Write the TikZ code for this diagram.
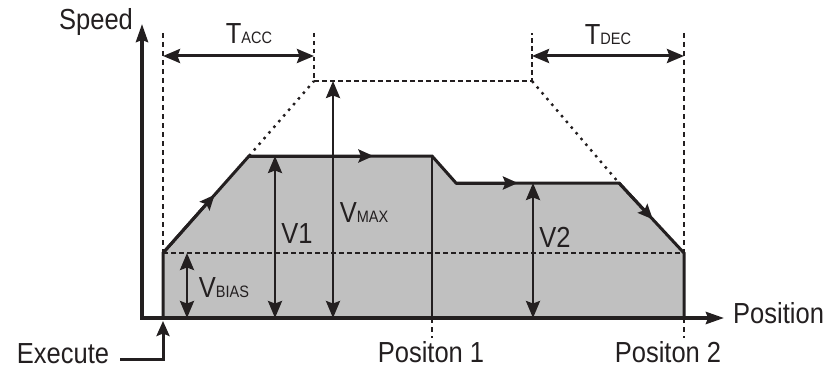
\documentclass[tikz,border=0pt]{standalone}
\usepackage{fontspec}
\setmainfont[FakeStretch=0.88]{Liberation Sans}
\usetikzlibrary{arrows.meta,calc}
\definecolor{Ink}{HTML}{231F20}
\definecolor{Shade}{HTML}{C0C0C0}
\newcommand{\sml}[1]{{\fontsize{16.5}{20}\selectfont #1}}
\tikzset{axisline/.style={line width=3.5pt,draw=Ink,{Stealth[length=18pt,width=12pt,inset=2pt]}-{Stealth[length=18pt,width=12pt,inset=2pt]}},flow/.style={line width=3pt,draw=Ink,-{Stealth[length=15pt,width=13pt,inset=2.5pt]}},dim/.style={line width=3pt,draw=Ink,{Stealth[length=17pt,width=14pt,inset=2.5pt]}-{Stealth[length=17pt,width=14pt,inset=2.5pt]}},guide/.style={line width=2.6pt,draw=Ink,dash pattern=on 5pt off 4pt},dots/.style={line width=2.4pt,draw=Ink,dash pattern=on 2.5pt off 5pt},outline/.style={line width=3pt,draw=Ink},lab/.style={font=\fontsize{29}{34}\selectfont,text=Ink,inner sep=0pt}}
\begin{document}
\begin{tikzpicture}[x=1pt,y=-1pt]
\useasboundingbox (0,0) rectangle (835,369);
% corners of the speed profile
\coordinate (b0) at (163,253);
\coordinate (p1) at (249,156);
\coordinate (p2) at (432,156);
\coordinate (p3) at (456,183);
\coordinate (p4) at (619,183);
\coordinate (b1) at (684,253);
\coordinate (m1) at (314,81);
\coordinate (m2) at (532,81);
\fill[Shade] (163,318)--(b0)--(p1)--(p2)--(p3)--(p4)--(b1)--(684,318)--cycle;
% guide lines
\draw[guide] (163,33)--(b0);
\draw[guide] (684,33)--(b1);
\draw[guide] (684,318)--(684,338);
\draw[guide] (432,318)--(432,338);
\draw[guide,dash pattern=on 4.5pt off 3.5pt] (b0)--(b1);
\draw[guide,dash pattern=on 4.5pt off 3.5pt] (314,33)--(m1)--(m2)--(532,33);
\draw[dots] (p1)--(m1);
\draw[dots] (m2)--(p4);
% profile
\draw[outline] (163,318)--(b0)--(p1)--(p2)--(p3)--(p4)--(b1)--(684,318);
\draw[outline,line width=2.5pt] (p2)--(432,318);
\draw[flow] (b0)--($(b0)!.6!(p1)$);
\draw[flow] (p1)--($(p1)!.68!(p2)$);
\draw[flow] (p3)--($(p3)!.38!(p4)$);
\draw[flow] (p4)--($(p4)!.52!(b1)$);
% axes and sizes
\draw[axisline] (142,24)--(142,318)--(724,318);
\draw[dim] (163,56)--(314,56);
\draw[dim] (532,56)--(684,56);
\draw[dim,line width=2.6pt] (333,81)--(333,318);
\draw[dim,line width=2.6pt] (275,156)--(275,318);
\draw[dim,line width=2.6pt] (187,253)--(187,318);
\draw[dim,line width=2.6pt] (533,183)--(533,318);
% labels
\node[lab,anchor=base] (speed) at (96,30) {Speed};
\node[lab,anchor=base] (tacc) at (249,44) {T\sml{ACC}};
\node[lab,anchor=base] (tdec) at (608,45) {T\sml{DEC}};
\node[lab,anchor=base] (vmax) at (364,222) {V\sml{MAX}};
\node[lab,anchor=base] (vone) at (297,243) {V1};
\node[lab,anchor=base] (vbias) at (224,297) {V\sml{BIAS}};
\node[lab,anchor=base] (vtwo) at (555,247) {V2};
\node[lab,anchor=base west] (pos) at (733,323) {Position};
\node[lab,anchor=base] (posone) at (431,362) {Positon 1};
\node[lab,anchor=base] (postwo) at (668,362) {Positon 2};
\node[lab,anchor=base] (exec) at (63,363) {Execute};
\draw[flow] ($(exec.base east)+(11,-4)$) -| (163,321);
\end{tikzpicture}
\end{document}
